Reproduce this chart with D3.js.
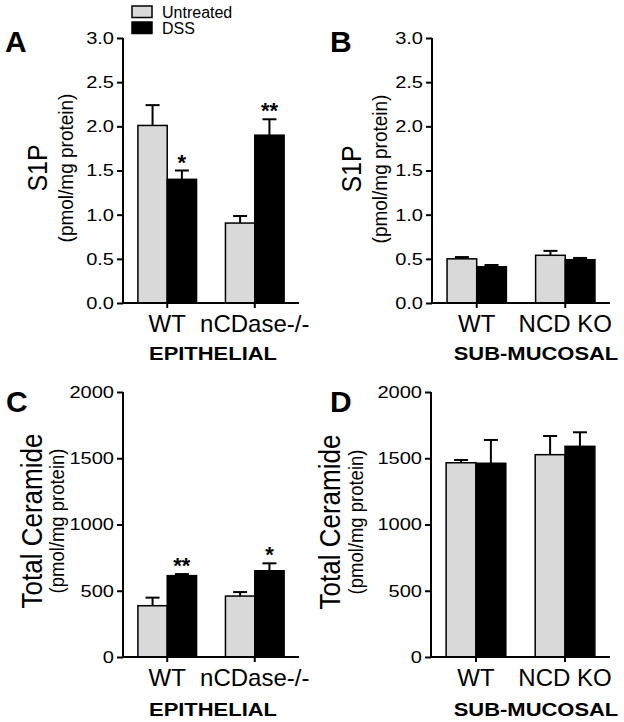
<!DOCTYPE html>
<html><head><meta charset="utf-8">
<script src="https://cdn.jsdelivr.net/npm/d3@7"></script>
<style>body{margin:0;background:#fff} svg{display:block}</style>
</head><body><svg id="c" width="624" height="722"></svg>
<script>
const FONT = '"Liberation Sans", Arial, Helvetica, sans-serif';
// ---- data ----
const series = ["Untreated", "DSS"];
const catsEpi = ["WT", "nCDase-/-"];
const catsSub = ["WT", "NCD KO"];
const groupEpi = "EPITHELIAL";
const groupSub = "SUB-MUCOSAL";
const s1pTicks = [0, 0.5, 1.0, 1.5, 2.0, 2.5, 3.0];
const cerTicks = [0, 500, 1000, 1500, 2000];
const s1pLabel = "S1P";
const cerLabel = "Total Ceramide";
const unitLabel = "(pmol/mg protein)";

// Panel A: S1P epithelial
const s1pEpiUntreated = [2.01, 0.905];
const s1pEpiUntreatedSem = [0.23, 0.08];
const s1pEpiDss = [1.40, 1.90];
const s1pEpiDssSem = [0.10, 0.18];
const s1pEpiDssStars = ["*", "**"];
// Panel B: S1P sub-mucosal
const s1pSubUntreated = [0.50, 0.54];
const s1pSubUntreatedSem = [0.02, 0.05];
const s1pSubDss = [0.41, 0.49];
const s1pSubDssSem = [0.02, 0.02];
// Panel C: Ceramide epithelial
const cerEpiUntreated = [387, 460];
const cerEpiUntreatedSem = [61, 30];
const cerEpiDss = [614, 651];
const cerEpiDssSem = [12, 56];
const cerEpiDssStars = ["**", "*"];
// Panel D: Ceramide sub-mucosal
const cerSubUntreated = [1466, 1527];
const cerSubUntreatedSem = [21, 141];
const cerSubDss = [1462, 1590];
const cerSubDssSem = [176, 106];

const fills = {"Untreated": "#d9d9d9", "DSS": "#000"};

const svg = d3.select("#c");

function stretchedText(g, txt, cx, by, size, sx, weight, anchor) {
  return g.append("text")
    .attr("transform", `translate(${cx},${by}) scale(${sx},1)`)
    .attr("text-anchor", anchor || "middle")
    .attr("font-family", FONT).attr("font-size", size)
    .attr("font-weight", weight || "normal")
    .attr("fill", "#000").text(txt);
}

function panel(cfg) {
  const g = svg.append("g");
  const x = d3.scaleBand().domain(cfg.cats).range(cfg.xr).paddingInner(0.33).paddingOuter(0.17);
  const xs = d3.scaleBand().domain(series).range([0, x.bandwidth()]);
  const y = d3.scaleLinear().domain(cfg.dom).range(cfg.yr);
  const vals = {"Untreated": cfg.u, "DSS": cfg.d};
  const sems = {"Untreated": cfg.us, "DSS": cfg.ds};
  const stars = {"Untreated": null, "DSS": cfg.stars};

  cfg.cats.forEach((c, i) => {
    series.forEach(s => {
      const v = vals[s][i], e = sems[s][i];
      const bx = x(c) + xs(s), bw = xs.bandwidth(), cx = bx + bw / 2;
      g.append("line").attr("x1", cx).attr("x2", cx).attr("y1", y(v)).attr("y2", y(v + e))
        .attr("stroke", "#000").attr("stroke-width", 2);
      g.append("line").attr("x1", cx - 7).attr("x2", cx + 7).attr("y1", y(v + e)).attr("y2", y(v + e))
        .attr("stroke", "#000").attr("stroke-width", 2);
      g.append("rect").attr("x", bx).attr("y", y(v)).attr("width", bw).attr("height", y(0) - y(v))
        .attr("fill", fills[s]).attr("stroke", "#000").attr("stroke-width", 1.5);
      if (stars[s] && stars[s][i]) {
        g.append("text").attr("x", cx).attr("y", y(v + e) - 1).attr("text-anchor", "middle")
          .attr("font-family", FONT).attr("font-size", 22).attr("font-weight", "bold").text(stars[s][i]);
      }
    });
  });

  // y axis
  const ya = d3.axisLeft(y).tickValues(cfg.ticks).tickFormat(cfg.fmt).tickSize(6).tickSizeOuter(0).tickPadding(3);
  const gy = g.append("g").attr("transform", `translate(${cfg.xr[0]},0)`).attr("font-family", FONT).call(ya);
  gy.select(".domain").attr("stroke", "#000").attr("stroke-width", 2).attr("d", `M0,${cfg.yr[0] + 1}V${cfg.yr[1]}`);
  gy.selectAll(".tick line").attr("stroke", "#000").attr("stroke-width", 2);
  gy.selectAll(".tick text").attr("font-size", 17).attr("fill", "#000")
    .attr("x", -9 / 1.18).attr("transform", "scale(1.18,1)");

  // x axis
  const xa = d3.axisBottom(x).tickSize(5).tickSizeOuter(0);
  const gx = g.append("g").attr("transform", `translate(0,${cfg.yr[0]})`).attr("font-family", FONT).call(xa);
  gx.select(".domain").attr("stroke", "#000").attr("stroke-width", 2).attr("d", `M${cfg.xr[0]},0H${cfg.xr[1]}`);
  gx.selectAll(".tick line").attr("stroke", "#000").attr("stroke-width", 2);
  gx.selectAll(".tick text").attr("font-size", 24).attr("fill", "#000").attr("y", 29).attr("dy", null);

  // group label
  stretchedText(g, cfg.group, cfg.groupX, cfg.yr[0] + cfg.groupDy, 18, 1.22, "bold");

  // y labels
  g.append("text").attr("transform", `translate(${cfg.lab1x},${cfg.labY}) rotate(-90) scale(1,1.1)`)
    .attr("text-anchor", "middle").attr("font-family", FONT).attr("font-size", cfg.lab1size).text(cfg.label);
  g.append("text").attr("transform", `translate(${cfg.lab2x},${cfg.labY}) rotate(-90) scale(1,1.08)`)
    .attr("text-anchor", "middle").attr("font-family", FONT).attr("font-size", cfg.lab2size).text(unitLabel);

  // panel letter
  g.append("text").attr("x", cfg.letterX).attr("y", cfg.letterY).attr("font-family", FONT)
    .attr("font-size", 30).attr("font-weight", "bold").text(cfg.letter);
}

const f1 = d3.format(".1f"), f0 = d3.format("d");

panel({letter: "A", letterX: 5, letterY: 52, cats: catsEpi, group: groupEpi, groupX: 213, groupDy: 57,
  xr: [123, 299], yr: [303, 38], dom: [0, 3], ticks: s1pTicks, fmt: f1,
  u: s1pEpiUntreated, us: s1pEpiUntreatedSem, d: s1pEpiDss, ds: s1pEpiDssSem, stars: s1pEpiDssStars,
  label: s1pLabel, lab1x: 47, lab1size: 25, lab2x: 73, lab2size: 19, labY: 168});
panel({letter: "B", letterX: 330, letterY: 52, cats: catsSub, group: groupSub, groupX: 536, groupDy: 57,
  xr: [432, 610], yr: [303, 38], dom: [0, 3], ticks: s1pTicks, fmt: f1,
  u: s1pSubUntreated, us: s1pSubUntreatedSem, d: s1pSubDss, ds: s1pSubDssSem, stars: null,
  label: s1pLabel, lab1x: 361, lab1size: 25, lab2x: 387, lab2size: 19, labY: 169});
panel({letter: "C", letterX: 6, letterY: 412, cats: catsEpi, group: groupEpi, groupX: 213, groupDy: 59,
  xr: [123, 299], yr: [657, 392], dom: [0, 2000], ticks: cerTicks, fmt: f0,
  u: cerEpiUntreated, us: cerEpiUntreatedSem, d: cerEpiDss, ds: cerEpiDssSem, stars: cerEpiDssStars,
  label: cerLabel, lab1x: 42, lab1size: 26, lab2x: 64, lab2size: 18.5, labY: 521});
panel({letter: "D", letterX: 330, letterY: 412, cats: catsSub, group: groupSub, groupX: 536, groupDy: 59,
  xr: [431, 610], yr: [657, 392], dom: [0, 2000], ticks: cerTicks, fmt: f0,
  u: cerSubUntreated, us: cerSubUntreatedSem, d: cerSubDss, ds: cerSubDssSem, stars: null,
  label: cerLabel, lab1x: 340, lab1size: 26, lab2x: 363, lab2size: 18.5, labY: 522});

// legend
const lg = svg.append("g");
series.forEach((s, i) => {
  lg.append("rect").attr("x", 132).attr("y", 6 + i * 16).attr("width", 20).attr("height", 11.5)
    .attr("fill", fills[s]).attr("stroke", "#000").attr("stroke-width", 1.5);
  lg.append("text").attr("x", 162).attr("y", 18 + i * 16).attr("font-family", FONT)
    .attr("font-size", 16).text(s);
});
</script></body></html>
